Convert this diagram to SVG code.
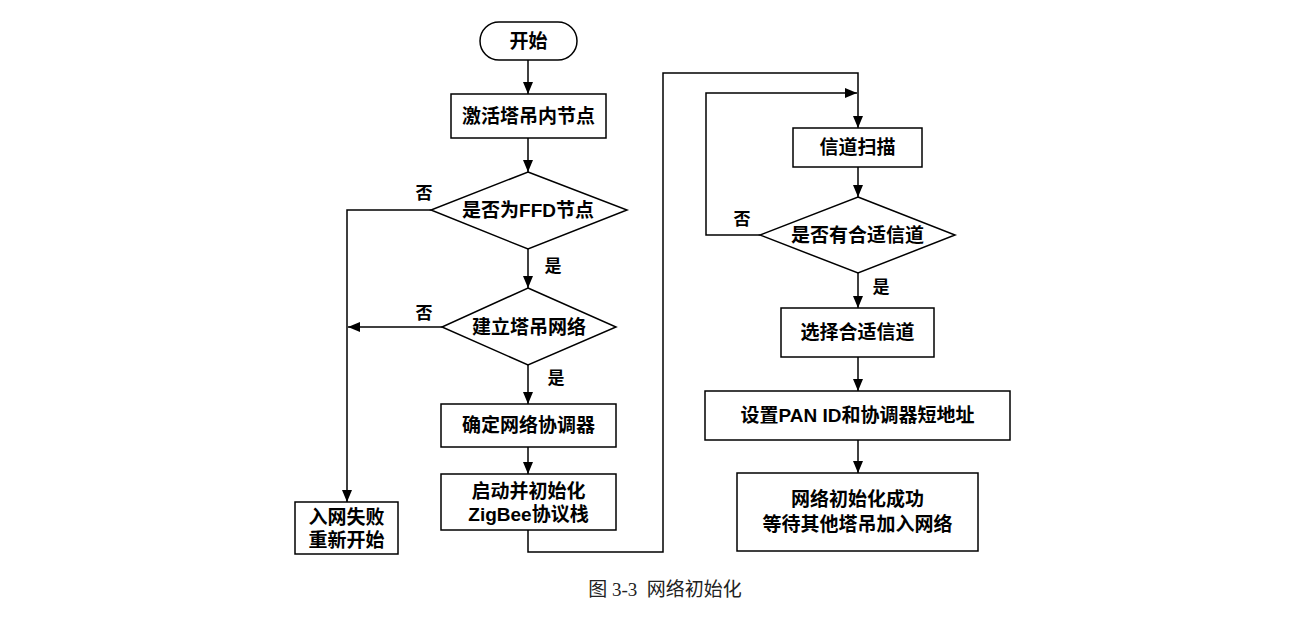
<svg xmlns="http://www.w3.org/2000/svg" width="1300" height="630" viewBox="0 0 1300 630">
<defs>
<marker id="ah" viewBox="0 0 12 10" refX="12" refY="5" markerWidth="12" markerHeight="10" markerUnits="userSpaceOnUse" orient="auto">
<path d="M0,0 L12,5 L0,10 z" fill="#000"/>
</marker>
<style>
.box{fill:#fff;stroke:#000;stroke-width:1.5}
.t{font-family:"Liberation Sans","Noto Sans CJK SC",sans-serif;font-size:19px;font-weight:bold;fill:#000;text-anchor:middle;dominant-baseline:central}
.lb{font-family:"Liberation Sans","Noto Sans CJK SC",sans-serif;font-size:17px;font-weight:bold;fill:#000;text-anchor:middle;dominant-baseline:central}
.c{fill:none;stroke:#000;stroke-width:1.5}
.ca{fill:none;stroke:#000;stroke-width:1.5;marker-end:url(#ah)}
.cap{font-family:"Liberation Serif","Noto Sans CJK SC",serif;font-size:19px;fill:#222;text-anchor:middle;dominant-baseline:central}
</style>
</defs>
<rect width="1300" height="630" fill="#fff"/>
<g id="connectors">
<path class="ca" d="M528,60 V94"/>
<path class="ca" d="M528,138 V172"/>
<path class="ca" d="M528,249 V288"/>
<path class="ca" d="M528,365 V404"/>
<path class="ca" d="M528,447 V474"/>
<path class="ca" d="M431,210 H347 V502"/>
<path class="ca" d="M442,327 H348"/>
<path class="ca" d="M528,530 V552 H663 V73 H858 V128"/>
<path class="ca" d="M760,235 H706 V93 H857"/>
<path class="ca" d="M858,167 V197"/>
<path class="ca" d="M858,273 V308"/>
<path class="ca" d="M858,357 V391"/>
<path class="ca" d="M858,440 V473"/>
<text class="lb" x="424" y="193">否</text>
<text class="lb" x="553" y="266">是</text>
<text class="lb" x="424" y="313">否</text>
<text class="lb" x="556" y="378">是</text>
<text class="lb" x="742" y="219">否</text>
<text class="lb" x="881" y="287">是</text>
</g>
<g id="start">
<rect class="box" x="480" y="22" width="97" height="38" rx="19"/>
<text class="t" x="528.5" y="41">开始</text>
</g>
<g id="activate">
<rect class="box" x="451" y="94" width="155" height="44"/>
<text class="t" x="528.5" y="116">激活塔吊内节点</text>
</g>
<g id="isFFD">
<polygon class="box" points="528,172 627,210 528,249 431,210"/>
<text class="t" x="528" y="210">是否为FFD节点</text>
</g>
<g id="build">
<polygon class="box" points="528,288 616,327 528,365 442,327"/>
<text class="t" x="529" y="327">建立塔吊网络</text>
</g>
<g id="coord">
<rect class="box" x="441" y="404" width="175" height="43"/>
<text class="t" x="528.5" y="425.5">确定网络协调器</text>
</g>
<g id="stack">
<rect class="box" x="441" y="474" width="175" height="56"/>
<text class="t" x="528.5" y="491">启动并初始化</text>
<text class="t" x="528.5" y="514">ZigBee协议栈</text>
</g>
<g id="fail">
<rect class="box" x="295" y="502" width="103" height="52"/>
<text class="t" x="346.5" y="517">入网失败</text>
<text class="t" x="346.5" y="540">重新开始</text>
</g>
<g id="scan">
<rect class="box" x="793" y="128" width="129" height="39"/>
<text class="t" x="857.5" y="147.5">信道扫描</text>
</g>
<g id="suitable">
<polygon class="box" points="858,197 955,235 858,273 760,235"/>
<text class="t" x="857.5" y="235">是否有合适信道</text>
</g>
<g id="select">
<rect class="box" x="781" y="308" width="153" height="49"/>
<text class="t" x="857.5" y="332.5">选择合适信道</text>
</g>
<g id="panid">
<rect class="box" x="705" y="391" width="305" height="49"/>
<text class="t" x="857.5" y="415.5">设置PAN ID和协调器短地址</text>
</g>
<g id="success">
<rect class="box" x="737" y="473" width="241" height="78"/>
<text class="t" x="857.5" y="499">网络初始化成功</text>
<text class="t" x="857.5" y="524">等待其他塔吊加入网络</text>
</g>
<text class="cap" x="665" y="589" xml:space="preserve">图 3-3  网络初始化</text>
</svg>
